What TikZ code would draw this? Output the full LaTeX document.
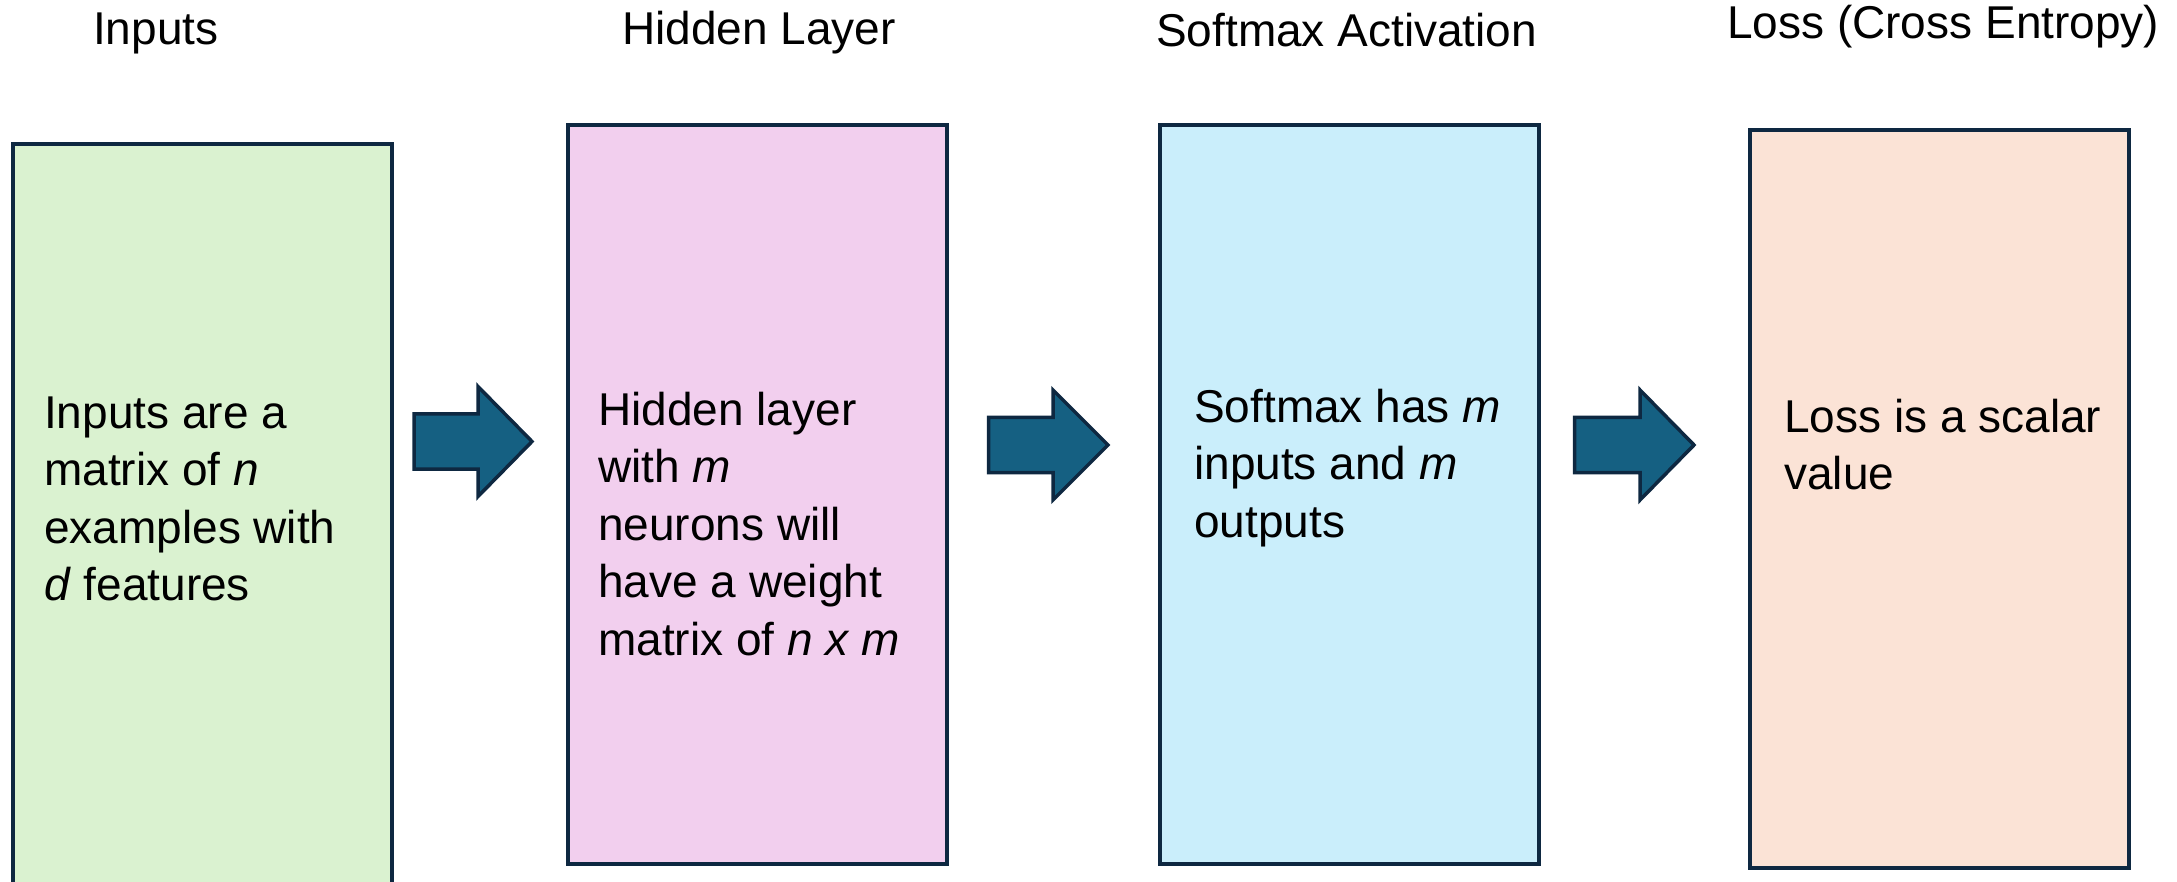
\documentclass[tikz,border=0pt]{standalone}
\usepackage{fontspec}
\setmainfont{Liberation Sans}
\definecolor{edge}{HTML}{0E2841}
\definecolor{fgreen}{HTML}{DAF2D0}
\definecolor{fpink}{HTML}{F2CFEE}
\definecolor{fblue}{HTML}{CAEEFB}
\definecolor{fpeach}{HTML}{FBE3D6}
\definecolor{arrowfill}{HTML}{156082}
\tikzset{
  stagebox/.style={draw=edge, line width=4pt},
  title/.style={anchor=base west, inner sep=0pt, font=\fontsize{46}{57.5}\selectfont},
  body/.style={anchor=base west, inner sep=0pt, align=left, font=\fontsize{46}{57.5}\selectfont},
  blockarrow/.style={draw=edge, fill=arrowfill, line width=3.5pt, line join=miter}
}
\newcommand{\blkarrow}[4]{% x0, head base x, tip x, center y
  \draw[blockarrow] (#1,#4-27.5) -- (#2,#4-27.5) -- (#2,#4-55) -- (#3,#4)
    -- (#2,#4+55) -- (#2,#4+27.5) -- (#1,#4+27.5) -- cycle;}
\begin{document}
\begin{tikzpicture}[x=1pt,y=-1pt]
\useasboundingbox (0,0) rectangle (2177,882);
% titles
\node[title] (t1) at (93,45) {Inputs};
\node[title] (t2) at (622,45) {Hidden Layer};
\node[title] (t3) at (1156,47) {Softmax Activation};
\node[title] (t4) at (1727,39) {Loss (Cross Entropy)};
% boxes
\path[stagebox, fill=fgreen] (12.5,144.5) rectangle (391.5,900);
\path[stagebox, fill=fpink] (568,125) rectangle (947,864);
\path[stagebox, fill=fblue] (1160,125) rectangle (1539,864);
\path[stagebox, fill=fpeach] (1750,130) rectangle (2129,868);
% texts (anchor on the baseline of the last line)
\node[body] (b1) at (44,600.5) {Inputs are a\\matrix of \textit{n}\\examples with\\\textit{d} features};
\node[body] (b2) at (598,655) {Hidden layer\\with \textit{m}\\neurons will\\have a weight\\matrix of \textit{n x m}};
\node[body] (b3) at (1194,537) {Softmax has \textit{m}\\inputs and \textit{m}\\outputs};
\node[body] (b4) at (1784,489.5) {Loss is a scalar\\value};
% block arrows
\blkarrow{414}{478}{532}{441.5}
\blkarrow{988.5}{1053}{1108}{445}
\blkarrow{1574.5}{1640}{1694}{445}
\end{tikzpicture}
\end{document}
